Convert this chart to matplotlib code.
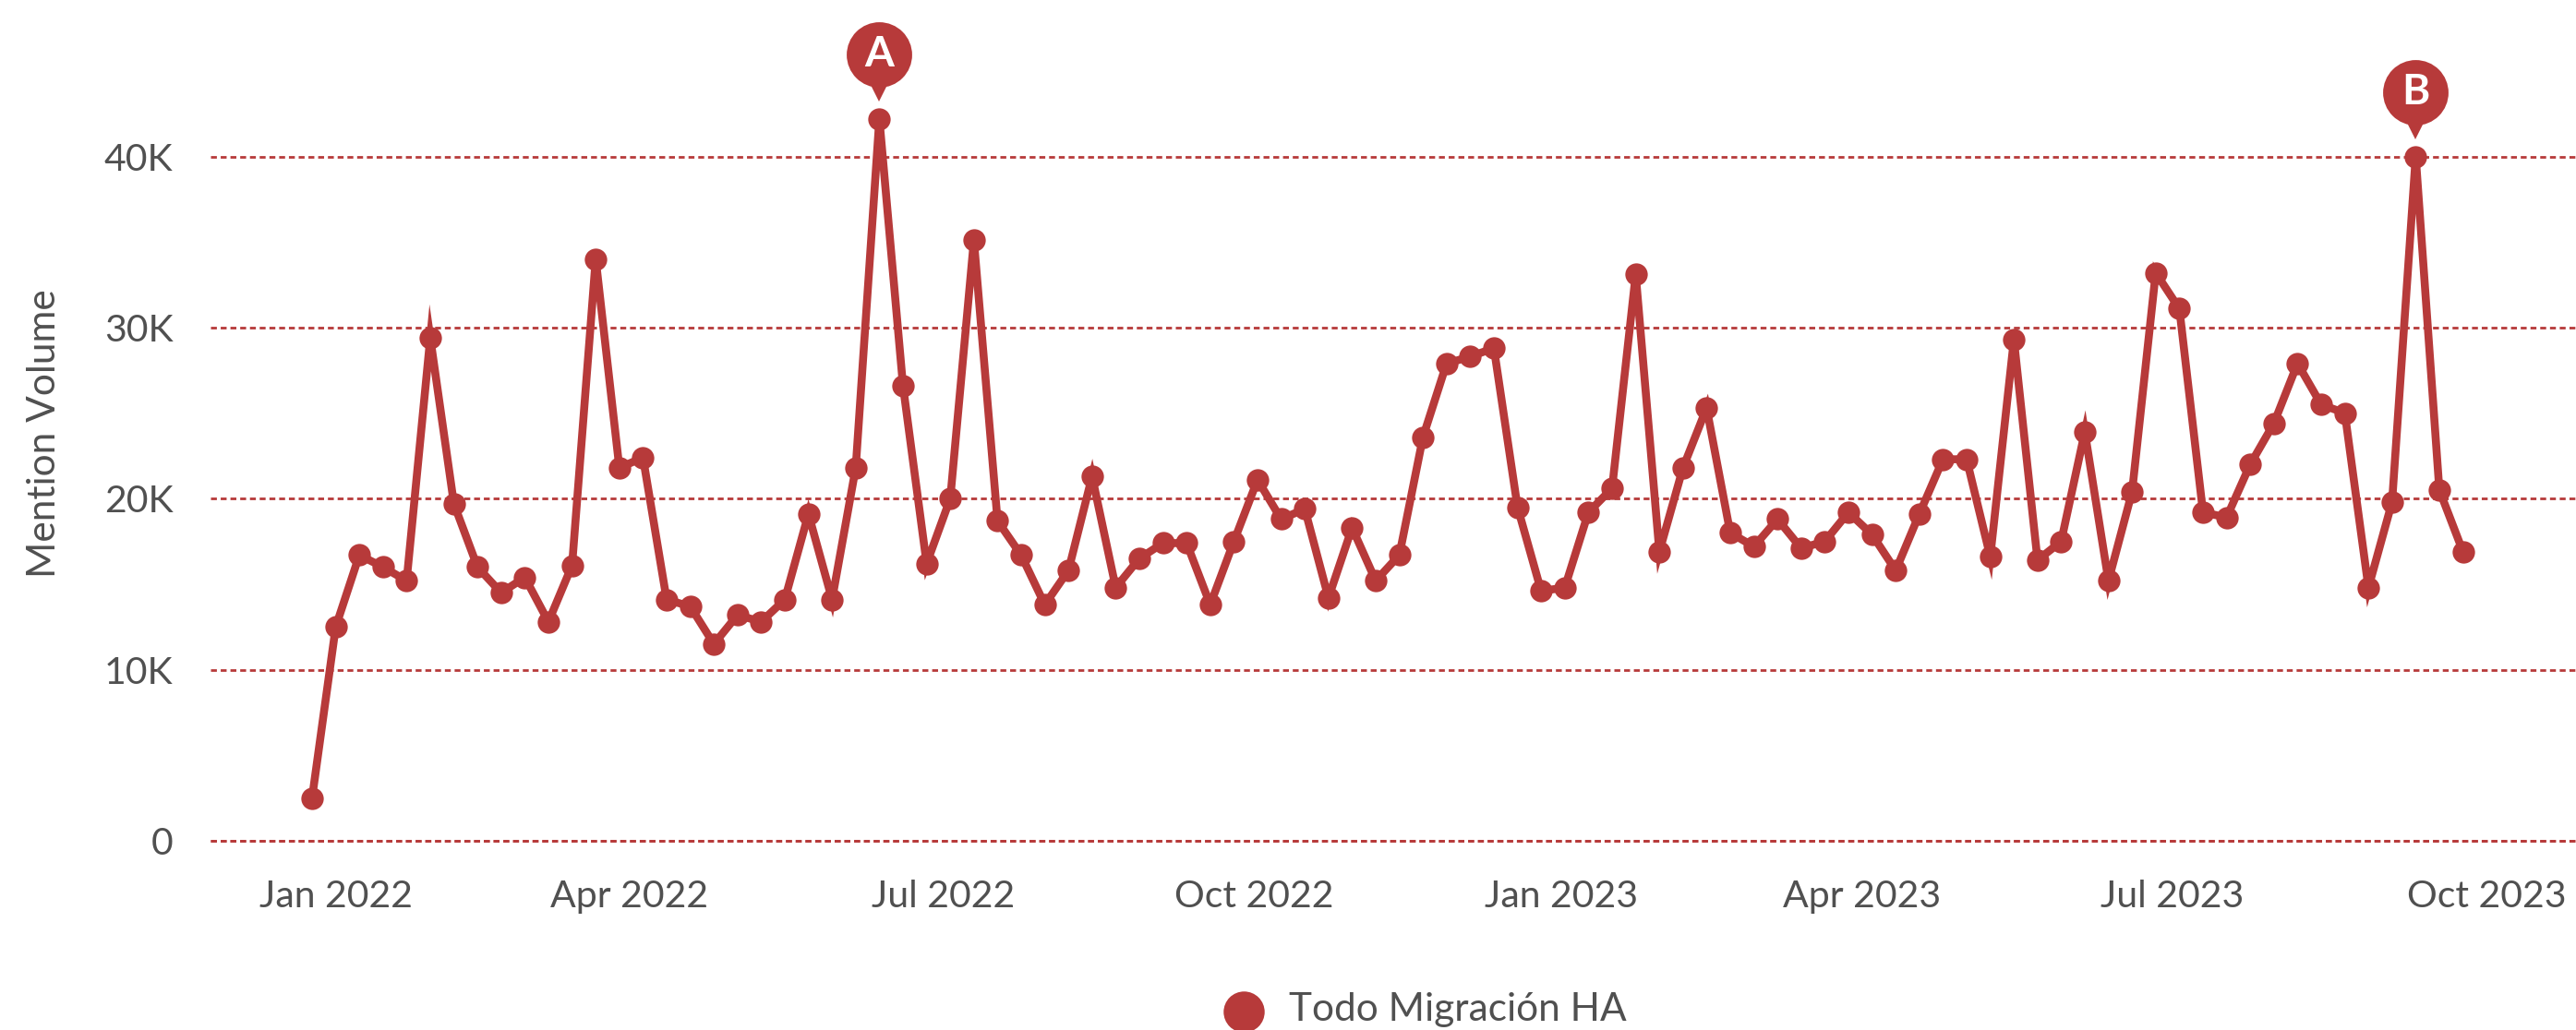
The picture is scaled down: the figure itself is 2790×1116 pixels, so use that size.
import numpy as np
import pandas as pd
import matplotlib
matplotlib.use("Agg")
import matplotlib.pyplot as plt
from matplotlib.transforms import offset_copy

series_name = "Todo Migración HA"
start_date = "2021-12-26"
values = [2500,12500,16700,16000,15200,29400,19700,16000,14500,15400,12800,16100,34000,21800,22400,14100,
          13700,11500,13200,12800,14100,19100,14100,21800,42200,26600,16200,20000,35100,18700,16700,13800,
          15800,21300,14800,16500,17400,17400,13800,17500,21100,18800,19400,14200,18300,15200,16700,23600,
          27900,28300,28800,19500,14600,14800,19200,20600,33100,16900,21800,25300,18000,17200,18800,17100,
          17500,19200,17900,15800,19100,22300,22300,16600,29300,16400,17500,23900,15200,20400,33200,31100,
          19200,18900,22000,24400,27900,25500,25000,14800,19800,40000,20500,16900]
y_ticks = [0, 10000, 20000, 30000, 40000]
y_tick_labels = ["0", "10K", "20K", "30K", "40K"]
x_tick_dates = ["2022-01-02","2022-03-30","2022-07-01","2022-10-01","2022-12-31","2023-03-30","2023-06-30","2023-10-01"]
x_tick_labels = ["Jan 2022","Apr 2022","Jul 2022","Oct 2022","Jan 2023","Apr 2023","Jul 2023","Oct 2023"]
callouts = [("A", 24, 70), ("B", 89, 70)]

RED = "#B73A3A"
TXT = "#505050"
W, H = 2790, 1116
plt.rcParams["font.family"] = ["Lato", "DejaVu Sans"]
plt.rcParams["font.weight"] = "normal"

dates = pd.date_range(start_date, periods=len(values), freq="7D")

fig = plt.figure(figsize=(W/100, H/100), dpi=100)
ax = fig.add_axes([228/W, (H-911)/H, 1-228/W, 911/H])
ax.set_ylim(0, 40000*911/741.5)
d0 = dates[0]
wk = pd.Timedelta(days=7)
ax.set_xlim(d0-wk*((338-228)/25.6), d0+wk*((W-338)/25.6))

for s in ax.spines.values():
    s.set_visible(False)
ax.set_yticks(y_ticks, y_tick_labels)
ax.set_xticks(pd.to_datetime(x_tick_dates), x_tick_labels)
ax.tick_params(axis="both", length=0, labelsize=29.5, labelcolor=TXT)
ax.tick_params(axis="y", pad=29)
ax.tick_params(axis="x", pad=30)
dash = (0, (2.3, 1.5))
ax.grid(axis="y", color=RED, lw=2, linestyle=dash, clip_on=False)
ax.set_axisbelow(True)
ax.axhline(0, color=RED, lw=2, linestyle=dash, clip_on=False, zorder=1)

ax.plot(dates, values, color=RED, lw=6.2, marker="o", ms=17.5, mew=0,
        solid_joinstyle="miter", clip_on=False, zorder=3)

for letter, i, off in callouts:
    tr = offset_copy(ax.transData, fig=fig, x=0, y=off, units="dots")
    tr2 = offset_copy(ax.transData, fig=fig, x=0, y=off-41, units="dots")
    ax.plot([dates[i]], [values[i]], "o", ms=51, color=RED, mew=0, transform=tr, clip_on=False, zorder=4)
    ax.plot([dates[i]], [values[i]], "v", ms=14, color=RED, mew=0, transform=tr2, clip_on=False, zorder=4)
    ax.text(dates[i], values[i], letter, transform=tr, color="white", fontsize=33, fontweight="bold",
            ha="center", va="center", zorder=5, clip_on=False)

fig.text(48/W, 1-470/H, "Mention Volume", rotation=90, ha="center", va="center", fontsize=30.5, color=TXT)
fig.add_artist(plt.Line2D([1347/W], [1-1096/H], marker="o", ms=32, color=RED, mew=0, transform=fig.transFigure))
fig.text(1396/W, 1-1094/H, series_name, ha="left", va="center", fontsize=30.5, color=TXT)

fig.savefig("out.png", dpi=100)
